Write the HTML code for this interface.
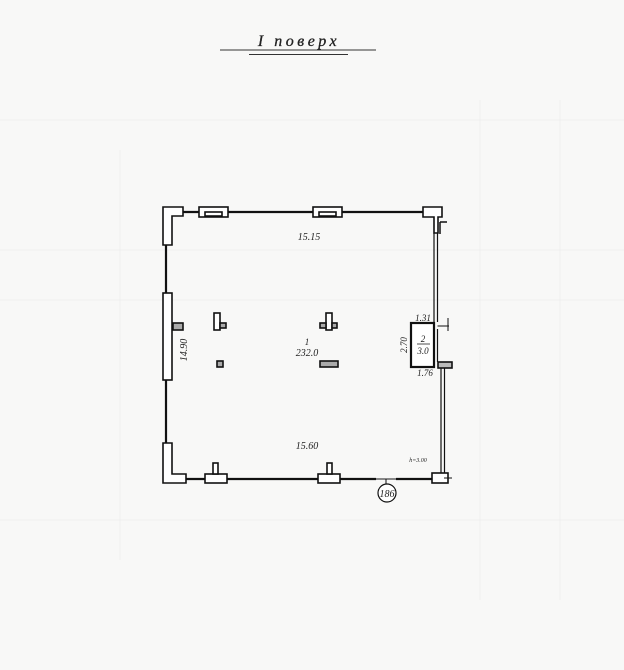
<!DOCTYPE html>
<html><head><meta charset="utf-8"><style>
body{margin:0;background:#f8f8f7;}
svg{display:block}
text{font-family:"Liberation Serif",serif;font-style:italic;fill:#222}
</style></head><body>
<svg width="624" height="670" viewBox="0 0 624 670" xmlns="http://www.w3.org/2000/svg">
<rect width="624" height="670" fill="#f8f8f7"/>
<g stroke="#efefef" stroke-width="1">
<line x1="0" y1="120" x2="624" y2="120"/><line x1="0" y1="250" x2="624" y2="250"/><line x1="0" y1="300" x2="624" y2="300"/><line x1="0" y1="520" x2="624" y2="520"/>
<line x1="480" y1="100" x2="480" y2="600"/><line x1="560" y1="100" x2="560" y2="600"/><line x1="120" y1="150" x2="120" y2="560"/>
</g>
<text x="299" y="46" font-size="16" text-anchor="middle" letter-spacing="3.5" stroke="#222" stroke-width="0.3">I  поверх</text>
<line x1="220" y1="50" x2="376" y2="50" stroke="#333" stroke-width="1"/>
<line x1="249" y1="54.5" x2="348" y2="54.5" stroke="#333" stroke-width="1"/>
<g fill="#fff" stroke="#111" stroke-width="1.6">
<line x1="180" y1="212" x2="425" y2="212" stroke-width="2.2"/>
<line x1="166" y1="240" x2="166" y2="445" stroke-width="2.2"/>
<line x1="184" y1="479" x2="376" y2="479" stroke-width="2.2"/>
<line x1="396" y1="479" x2="433" y2="479" stroke-width="2.2"/>
<line x1="376" y1="479" x2="396" y2="479" stroke="#888" stroke-width="2"/>
<path d="M163 207 H183 V216 H172 V245 H163 Z"/>
<path d="M163 443 H172 V474 H186 V483 H163 Z"/>
<path d="M423 207 H442 V217 H438 V233 H434 V217 H423 Z"/>
<rect x="432" y="473" width="16" height="10"/>
<rect x="199" y="207" width="29" height="10"/><rect x="205" y="212" width="17" height="4"/>
<rect x="313" y="207" width="29" height="10"/><rect x="319" y="212" width="17" height="4"/>
<rect x="163" y="293" width="9" height="87"/>
<rect x="205" y="474" width="22" height="9"/><rect x="213" y="463" width="5" height="11"/>
<rect x="318" y="474" width="22" height="9"/><rect x="327" y="463" width="5" height="11"/>
<line x1="434" y1="233" x2="434" y2="324" stroke-width="1.2"/>
<line x1="437.5" y1="233" x2="437.5" y2="322" stroke-width="1.2"/>
<line x1="437.5" y1="329" x2="437.5" y2="362" stroke-width="1.2"/>
<line x1="441" y1="367" x2="441" y2="473" stroke-width="1.2"/>
<line x1="444.5" y1="367" x2="444.5" y2="473" stroke-width="1.2"/>
<line x1="437.5" y1="326" x2="449" y2="326" stroke-width="1"/>
<line x1="448" y1="318" x2="448" y2="331" stroke-width="1"/>
<path d="M440 222 H447 M440 222 V234" fill="none" stroke-width="1.5"/>
<line x1="444" y1="478" x2="452" y2="478" stroke-width="1"/>
<rect x="411" y="323" width="23" height="44" stroke-width="2.2"/>
<rect x="438" y="362" width="14" height="6" fill="#bbb"/>
<rect x="214" y="313" width="6" height="17"/><rect x="220" y="323" width="6" height="5" fill="#aaa"/>
<rect x="326" y="313" width="6" height="17"/><rect x="320" y="323" width="6" height="5" fill="#aaa"/><rect x="332" y="323" width="5" height="5" fill="#aaa"/>
<rect x="173" y="323" width="10" height="7" fill="#aaa"/>
<rect x="217" y="361" width="6" height="6" fill="#aaa"/>
<rect x="320" y="361" width="18" height="6" fill="#aaa"/>
</g>
<circle cx="387" cy="493" r="9" fill="#fff" stroke="#111" stroke-width="1.2"/>
<line x1="386" y1="479" x2="386" y2="484" stroke="#111"/>
<text x="387" y="497" font-size="10" text-anchor="middle" font-style="normal">186</text>
<text x="309" y="240" font-size="10" text-anchor="middle">15.15</text>
<text x="307" y="449" font-size="10" text-anchor="middle">15.60</text>
<text x="307" y="345" font-size="9" text-anchor="middle">1</text>
<text x="307" y="356" font-size="10" text-anchor="middle">232.0</text>
<text transform="translate(187,350) rotate(-90)" font-size="10" text-anchor="middle">14.90</text>
<text transform="translate(407,345) rotate(-90)" font-size="9" text-anchor="middle">2.70</text>
<text x="423" y="321" font-size="9" text-anchor="middle">1.31</text>
<text x="423" y="342" font-size="9" text-anchor="middle">2</text>
<line x1="417" y1="344" x2="430" y2="344" stroke="#222" stroke-width="0.8"/>
<text x="423" y="354" font-size="9" text-anchor="middle">3.0</text>
<text x="425" y="376" font-size="9" text-anchor="middle">1.76</text>
<text x="418" y="462" font-size="6" text-anchor="middle">h=3.00</text>
</svg>
</body></html>
